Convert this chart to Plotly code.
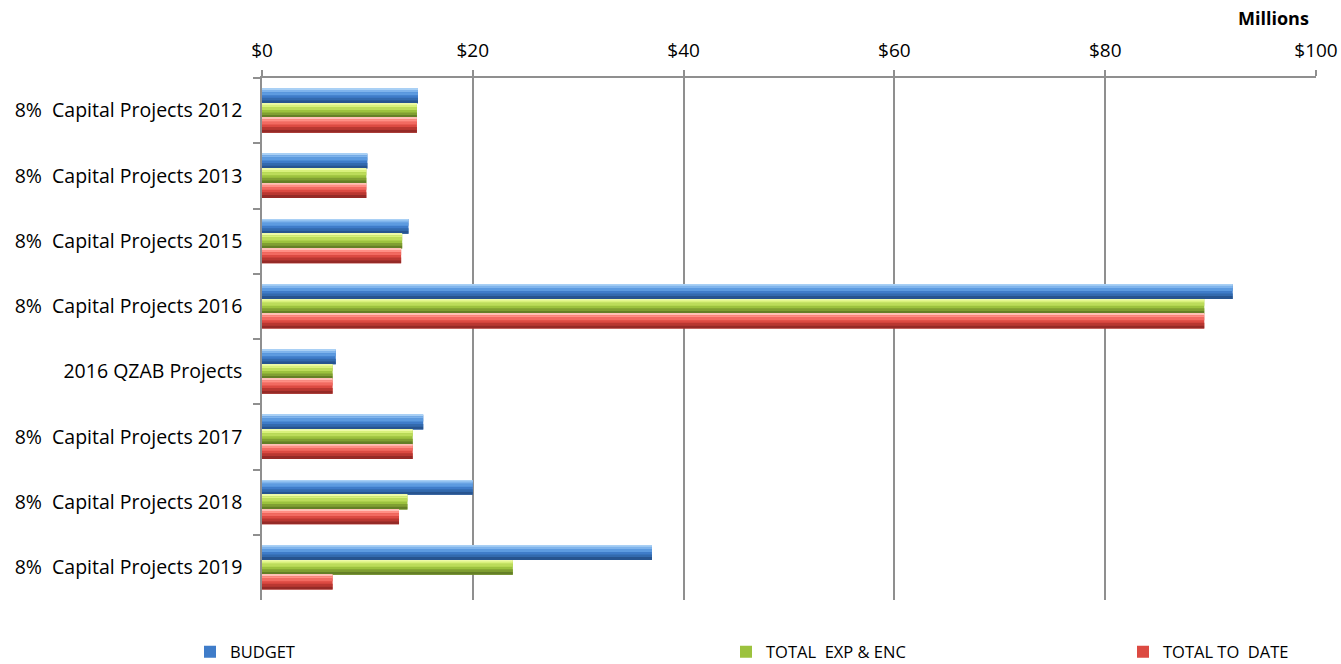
import plotly.graph_objects as go

NB = "\u00a0"

# Fund categories, top to bottom
categories = [
    f"8%{NB} Capital Projects 2012",
    f"8%{NB} Capital Projects 2013",
    f"8%{NB} Capital Projects 2015",
    f"8%{NB} Capital Projects 2016",
    "2016 QZAB Projects",
    f"8%{NB} Capital Projects 2017",
    f"8%{NB} Capital Projects 2018",
    f"8%{NB} Capital Projects 2019",
]

# Amounts in $ millions
budget = [14.8, 10.0, 13.9, 92.1, 7.0, 15.3, 20.0, 37.0]
total_exp_enc = [14.7, 9.9, 13.3, 89.4, 6.7, 14.3, 13.8, 23.8]
total_to_date = [14.7, 9.9, 13.2, 89.4, 6.7, 14.3, 13.0, 6.7]

series_names = ["BUDGET", f"TOTAL{NB} EXP & ENC", f"TOTAL TO{NB} DATE"]
series_values = [budget, total_exp_enc, total_to_date]

# Horizontal shading bands (fraction of bar thickness from the top edge)
# that give each bar a rounded, bevelled appearance
series_styles = [
    {"base": "#3f7cc9",
     "bands": [(0.00, 0.10, "#a9d0f5"), (0.10, 0.25, "#7fb4ec"), (0.25, 0.45, "#5d9be0"),
               (0.62, 0.80, "#336aae"), (0.80, 1.00, "#27548f")]},
    {"base": "#9cc23e",
     "bands": [(0.00, 0.10, "#eefaa8"), (0.10, 0.25, "#d9f17c"), (0.25, 0.45, "#bcdc5a"),
               (0.62, 0.80, "#809f32"), (0.80, 1.00, "#647f26")]},
    {"base": "#dc4a42",
     "bands": [(0.00, 0.10, "#ffc0b6"), (0.10, 0.25, "#ff8f85"), (0.25, 0.45, "#f26a61"),
               (0.62, 0.80, "#b93731"), (0.80, 1.00, "#952a27")]},
]

bar_w = 0.225
group_start = -1.5 * bar_w
legend_ids = ["legend", "legend2", "legend3"]

fig = go.Figure()
for i, (name, vals, style) in enumerate(zip(series_names, series_values, series_styles)):
    off = group_start + i * bar_w
    fig.add_trace(go.Bar(
        y=categories, x=vals, orientation="h", name=name,
        offset=off, width=bar_w,
        marker=dict(color=style["base"], line=dict(width=0)),
        legend=legend_ids[i], hoverinfo="x+name",
    ))
    for f0, f1, col in style["bands"]:
        fig.add_trace(go.Bar(
            y=categories, x=vals, orientation="h", name=name,
            offset=off + f0 * bar_w, width=(f1 - f0) * bar_w,
            marker=dict(color=col, line=dict(width=0)),
            showlegend=False, hoverinfo="skip",
        ))

font_family = "'Open Sans', 'Noto Sans', sans-serif"
grid_col = "#8f8f8f"

legend_common = dict(
    orientation="h", xref="container", yref="container",
    yanchor="middle", xanchor="left", y=0.018,
    font=dict(family=font_family, size=16.5, color="#000000"),
    bgcolor="rgba(0,0,0,0)", itemwidth=30, tracegroupgap=0,
)

fig.update_layout(
    width=1341, height=664,
    margin=dict(l=262, r=25, t=78, b=64),
    paper_bgcolor="white", plot_bgcolor="white",
    barmode="overlay",
    font=dict(family=font_family, size=19.5, color="#000000"),
    xaxis=dict(
        side="top", range=[0, 100], tick0=0, dtick=20,
        tickprefix="$", showgrid=True, gridcolor=grid_col, gridwidth=1.5,
        showline=True, linecolor=grid_col, linewidth=1.5,
        ticks="outside", ticklen=6, tickcolor=grid_col, tickwidth=1.5,
        ticklabelstandoff=6, zeroline=False, fixedrange=True, automargin=False,
        tickfont=dict(size=19),
    ),
    yaxis=dict(
        autorange="reversed", type="category",
        showline=True, linecolor=grid_col, linewidth=1.5,
        ticks="outside", ticklen=7, tickcolor=grid_col, tickwidth=1.5,
        tickson="boundaries", showgrid=False, ticklabelstandoff=14,
        fixedrange=True, automargin=False,
    ),
    legend=dict(legend_common, x=190 / 1341),
    legend2=dict(legend_common, x=726 / 1341),
    legend3=dict(legend_common, x=1123 / 1341),
    annotations=[dict(
        text="<b>Millions</b>", xref="paper", yref="paper",
        x=(1311 - 262) / 1054, y=(600 - 18) / 522, xanchor="right", yanchor="middle",
        showarrow=False, font=dict(family=font_family, size=18, color="#000000"),
    )],
)

fig.write_html("out.html")
